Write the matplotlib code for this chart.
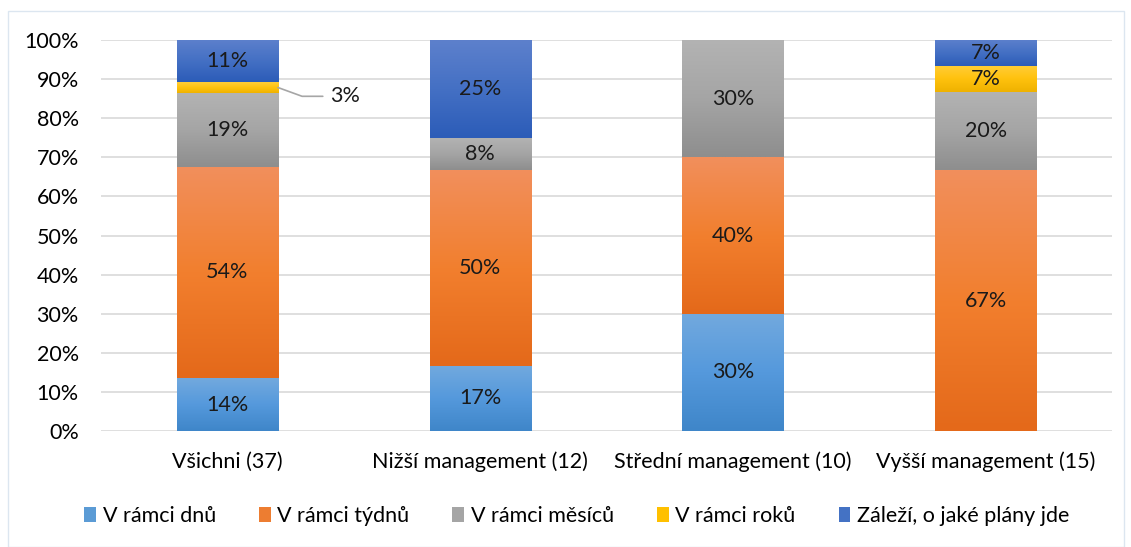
import matplotlib
matplotlib.use("Agg")
import matplotlib.pyplot as plt
import numpy as np
from matplotlib.patches import Patch, Rectangle
from matplotlib.colors import LinearSegmentedColormap

categories = ["Všichni (37)", "Nižší management (12)", "Střední management (10)", "Vyšší management (15)"]
series_names = ["V rámci dnů", "V rámci týdnů", "V rámci měsíců", "V rámci roků", "Záleží, o jaké plány jde"]
v_dnu = [13.5, 16.7, 30.0, 0.0]
v_tydnu = [54.1, 50.0, 40.0, 66.7]
v_mesicu = [18.9, 8.3, 30.0, 20.0]
v_roku = [2.7, 0.0, 0.0, 6.7]
zalezi = [10.8, 25.0, 0.0, 6.7]
yticks = [0, 10, 20, 30, 40, 50, 60, 70, 80, 90, 100]

series = [v_dnu, v_tydnu, v_mesicu, v_roku, zalezi]
# gradient colours (top, middle, bottom) and base colour
grads = [
    ("#72a9de", "#5599dc", "#3f86c9"),
    ("#f18f5c", "#f27f2e", "#e4691a"),
    ("#b3b3b3", "#a5a5a5", "#8e8e8e"),
    ("#ffcd38", "#ffc20e", "#efb200"),
    ("#5d80cc", "#4470c4", "#2c5cb8"),
]
base = ["#5b9bd5", "#ed7d31", "#a5a5a5", "#ffc000", "#4472c4"]

FS = 15.5

W, H = 1131, 547
fig = plt.figure(figsize=(W / 100, H / 100), dpi=100)
plt.rcParams['font.family'] = ['Lato', 'DejaVu Sans']

# outer frame
fig.patches.append(Rectangle((8 / W, 0), (1124 - 8) / W, 1 - 11 / H, transform=fig.transFigure,
                             fill=False, edgecolor="#dce6f0", linewidth=1.0))

ax = fig.add_axes([101 / W, 1 - 431 / H, (1112 - 101) / W, (431 - 40) / H])
ax.set_xlim(-0.5, len(categories) - 0.5)
ax.set_ylim(0, 100)
for s in ax.spines.values():
    s.set_visible(False)
ax.set_yticks(yticks)
ax.set_yticklabels([f"{t}%" for t in yticks])
ax.yaxis.grid(True, color="#d9d9d9", linewidth=1.2)
ax.set_axisbelow(True)
ax.tick_params(axis="y", length=0, pad=16, labelsize=FS)
ax.tick_params(axis="x", length=0, pad=15, labelsize=FS)
x = np.arange(len(categories))
ax.set_xticks(x)
ax.set_xticklabels(categories)

width = 0.40
bottom = np.zeros(len(categories))
for si, vals in enumerate(series):
    vals = np.array(vals)
    cmap = LinearSegmentedColormap.from_list(f"g{si}", list(grads[si])[::-1])
    bars = ax.bar(x, vals, width, bottom=bottom, color=base[si], linewidth=0, zorder=2)
    for bi, b in enumerate(bars):
        v = vals[bi]
        if v <= 0:
            continue
        x0 = b.get_x()
        y0 = b.get_y()
        grad = np.linspace(0, 1, 100).reshape(-1, 1)
        im = ax.imshow(grad, cmap=cmap, aspect="auto", origin="lower",
                       extent=(x0, x0 + width, y0, y0 + v), zorder=3, interpolation="bilinear")
        im.set_clip_path(b)
        if v >= 4:
            ax.text(x[bi], y0 + v / 2, f"{int(v + 0.5)}%", ha="center", va="center",
                    fontsize=FS, color="#1a1a1a", zorder=5)
        else:
            ax.annotate(f"{int(v + 0.5)}%", xy=(x0 + width, y0 + v / 2),
                        xytext=(x[bi] + 0.405, 85.6), textcoords="data",
                        ha="left", va="center", fontsize=FS, color="#1a1a1a", zorder=5,
                        arrowprops=dict(arrowstyle="-", color="#a6a6a6", lw=1.2,
                                        connectionstyle="angle,angleA=0,angleB=-20,rad=0",
                                        shrinkA=3, shrinkB=0))
    bottom += vals

ax.set_xlim(-0.5, len(categories) - 0.5)
ax.set_ylim(0, 100)

handles = [Patch(facecolor=base[i], edgecolor="none") for i in range(len(series_names))]
fig.legend(handles, series_names, loc="center", bbox_to_anchor=(0.51, 1 - 516 / H), ncol=5,
           frameon=False, fontsize=FS, handlelength=0.55, handleheight=0.65, handletextpad=0.3,
           columnspacing=2.0)

fig.savefig("out.png", dpi=100)
